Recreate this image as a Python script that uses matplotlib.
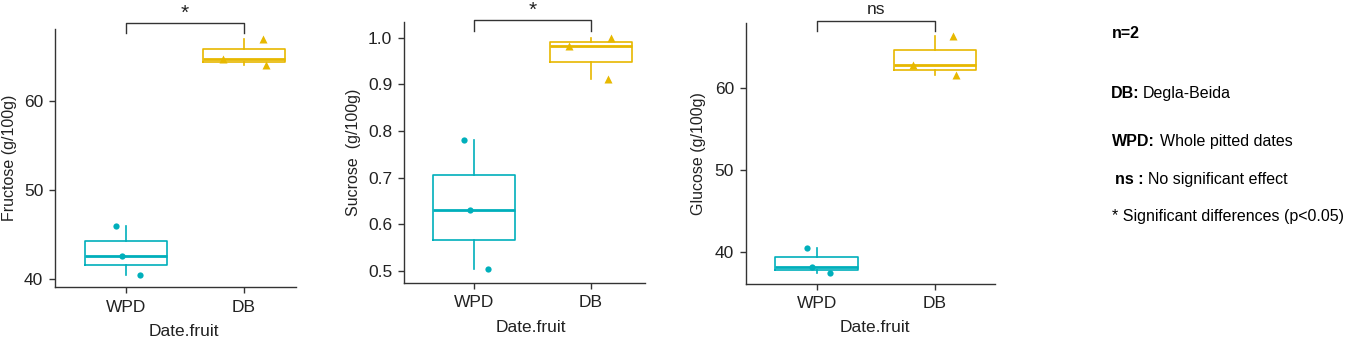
import matplotlib
matplotlib.use('Agg')
import matplotlib.pyplot as plt
from matplotlib.ticker import FormatStrFormatter

plt.rcParams['font.family'] = ['Liberation Sans', 'DejaVu Sans']

# ---------------- data ----------------
categories = ['WPD', 'DB']
fructose_wpd = [45.95, 42.65, 40.45]
fructose_db = [64.6, 66.9, 64.0]
sucrose_wpd = [0.780, 0.630, 0.505]
sucrose_db = [0.983, 1.000, 0.911]
glucose_wpd = [40.5, 38.25, 37.5]
glucose_db = [62.8, 66.3, 61.5]

jitter_wpd = [[-0.085, -0.035, 0.117], [-0.086, -0.034, 0.117], [-0.085, -0.037, 0.113]]
jitter_db = [[-0.175, 0.158, 0.184], [-0.186, 0.174, 0.151], [-0.183, 0.150, 0.178]]

y_labels = ['Fructose (g/100g)', 'Sucrose  (g/100g)', 'Glucose (g/100g)']
y_ticks = [[40, 50, 60], [0.5, 0.6, 0.7, 0.8, 0.9, 1.0], [40, 50, 60]]
sig_labels = ['*', '*', 'ns']
x_label = 'Date.fruit'

notes_bold = ['n=2', 'DB:', 'WPD:', 'ns :', '']
notes_regular = ['', 'Degla-Beida', 'Whole pitted dates', 'No significant effect',
                 '* Significant differences (p<0.05)']

# ---------------- layout ----------------
W, H = 1349, 341
fig = plt.figure(figsize=(W / 100, H / 100), dpi=100)

# pixel rects: left, right, top, bottom
rects = [(55, 296, 29, 287), (404, 645, 21.7, 282.7), (745.7, 995, 23.3, 284)]
xlims = [(0.398, 2.44), (0.4, 2.465), (0.4, 2.507)]
ylims = [(39.14, 68.0), (0.475, 1.034), (36.15, 67.83)]
brackets = [(68.7, 67.5), (1.038, 1.015), (68.1, 66.9)]
ylabel_x = [10, 353, 698]
xlabel_pos = [(184, 331), (530.7, 328), (874.7, 328)]
sig_size = [15, 15, 12.5]

TEAL = '#00AFBB'
GOLD = '#E7B800'
DARK = '#222222'

panels = [(fructose_wpd, fructose_db), (sucrose_wpd, sucrose_db), (glucose_wpd, glucose_db)]

for i, (wpd, db) in enumerate(panels):
    l, r, t, b = rects[i]
    ax = fig.add_axes([l / W, (H - b) / H, (r - l) / W, (b - t) / H])
    for vals, pos, col in [(wpd, 1, TEAL), (db, 2, GOLD)]:
        ax.boxplot([vals], positions=[pos], widths=0.7, showcaps=False, showfliers=False,
                   patch_artist=False,
                   boxprops=dict(color=col, linewidth=1.2),
                   whiskerprops=dict(color=col, linewidth=1.2),
                   medianprops=dict(color=col, linewidth=2.0))
    ax.plot([1 + j for j in jitter_wpd[i]], wpd, 'o', color=TEAL, ms=4.5, mec='none')
    ax.plot([2 + j for j in jitter_db[i]], db, '^', color=GOLD, ms=5.5, mec='none')

    ax.set_xlim(*xlims[i])
    ax.set_ylim(*ylims[i])
    ax.set_xticks([1, 2])
    ax.set_xticklabels(categories)
    ax.set_yticks(y_ticks[i])
    if i == 1:
        ax.yaxis.set_major_formatter(FormatStrFormatter('%.1f'))
    for s in ['top', 'right']:
        ax.spines[s].set_visible(False)
    for s in ['left', 'bottom']:
        ax.spines[s].set_color('#333333')
        ax.spines[s].set_linewidth(1.0)
    ax.tick_params(axis='both', length=4, width=1.0, color='#333333', labelsize=12.5,
                   labelcolor=DARK, direction='out')
    ax.tick_params(axis='x', pad=5)
    ax.tick_params(axis='y', pad=4.5)

    yt, yd = brackets[i]
    ax.plot([1, 1, 2, 2], [yd, yt, yt, yd], color='#333333', lw=1.0, clip_on=False)
    if sig_labels[i] == '*':
        ax.annotate('*', xy=(1.5, yt), xytext=(0, 7), textcoords='offset points',
                    ha='center', va='center', fontsize=sig_size[i], color=DARK,
                    annotation_clip=False)
    else:
        ax.annotate('ns', xy=(1.5, yt), xytext=(0, 3), textcoords='offset points',
                    ha='center', va='bottom', fontsize=sig_size[i], color=DARK,
                    annotation_clip=False)

    fig.text(ylabel_x[i] / W, (H - (t + b) / 2) / H, y_labels[i], rotation=90,
             ha='center', va='center', fontsize=11.5, color=DARK)
    fig.text(xlabel_pos[i][0] / W, (H - xlabel_pos[i][1]) / H, x_label,
             ha='center', va='center', fontsize=12.5, color=DARK)

# ---------------- notes ----------------
overlay = fig.add_axes([0, 0, 1, 1])
overlay.set_axis_off()
overlay.set_xlim(0, W)
overlay.set_ylim(H, 0)
note_pos = [(1111.7, 38.3), (1110.7, 98.3), (1112, 146), (1115, 184.3), (1112, 221)]
note_gap = [0, 2.5, 3.5, 3.0, 0]
for (x, y), nb, nr, g in zip(note_pos, notes_bold, notes_regular, note_gap):
    if nb:
        tb = overlay.text(x, y, nb, fontsize=11.5, fontweight='bold', color='black',
                          ha='left', va='baseline')
        if nr:
            overlay.annotate(nr, xy=(1, 0), xycoords=tb, xytext=(g, 0),
                             textcoords='offset points', ha='left', va='bottom',
                             fontsize=11.5, color='black')
    else:
        overlay.text(x, y, nr, fontsize=11.5, color='black', ha='left', va='baseline')

fig.savefig('out.png', dpi=100)
